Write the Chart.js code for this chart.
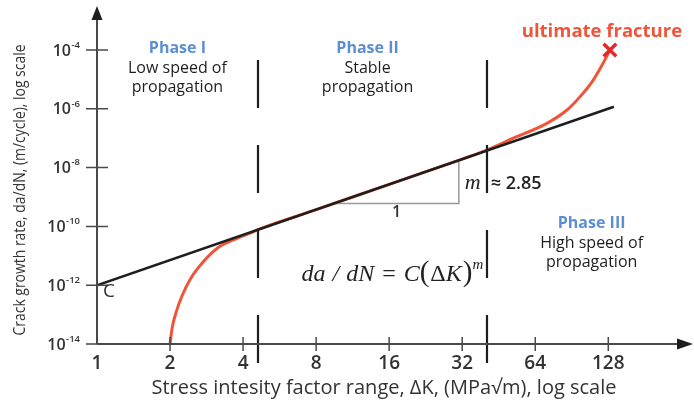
<!DOCTYPE html>
<html>
<head>
<meta charset="utf-8">
<script src="https://cdn.jsdelivr.net/npm/chart.js@4.4.0/dist/chart.umd.min.js"></script>
<style>
  body { margin: 0; background: #fff; }
  #wrap { width: 694px; height: 406px; position: relative; }
</style>
</head>
<body>
<div id="wrap"><canvas id="myChart"></canvas></div>
<script>
// axis ticks
let kTicks = [1, 2, 4, 8, 16, 32, 64, 128];
let rateTicks = [1e-14, 1e-12, 1e-10, 1e-8, 1e-6, 1e-4];

// crack growth curve : stress intensity range (MPa√m) vs da/dN (m/cycle)
let curveK = [2.0, 2.04, 2.12, 2.24, 2.44, 2.76, 3.18, 3.74, 4.27, 4.61, 8, 16, 32, 40, 52, 71.5, 86.5, 98, 111, 122, 130];
let curveRate = [1e-14, 3.5e-14, 1.22e-13, 4.3e-13, 1.76e-12, 6.65e-12, 1.99e-11, 3.8e-11, 5.9e-11, 7.8e-11,
                 3.7e-10, 2.7e-9, 1.95e-8, 3.8e-8, 1.0e-7, 3.2e-7, 9.1e-7, 2.6e-6, 9.5e-6, 3.6e-5, 1e-4];

// paris law line  da/dN = C(ΔK)^m
let parisK = [1, 135];
let parisRate = [1e-12, 1.18e-6];

// ultimate fracture point
let fractureK = [130];
let fractureRate = [1e-4];

// slope triangle (run 1, rise m)
let slopeK = [9.5, 31, 31];
let slopeRate = [6e-10, 6e-10, 1.8e-8];

// borders between phase I / II / III
let phaseBorders = [4.6, 40.6];

function pts(xs, ys) {
  let out = [];
  for (let i = 0; i < xs.length; i++) out.push({ x: xs[i], y: ys[i] });
  return out;
}

const FONT = '"Open Sans", sans-serif';
const SERIF = '"Liberation Serif", serif';
const RED = '#f0553a';
const BLUE = '#5b8fd4';

// draws a row of text pieces on one baseline, starting at x (or centred on it)
function drawRuns(ctx, runs, x, baseY, centred) {
  let total = 0;
  runs.forEach(r => { ctx.font = r.font; r.w = ctx.measureText(r.t).width + (r.gap || 0); total += r.w; });
  if (centred) x = x - total / 2;
  ctx.textAlign = 'left';
  ctx.textBaseline = 'alphabetic';
  runs.forEach(r => {
    ctx.font = r.font;
    ctx.fillText(r.t, x + (r.gap || 0), baseY + (r.dy || 0));
    x += r.w;
  });
}

////////////////////////////////////////////////////////////
// axes with arrows, tick marks, y labels and all the notes
////////////////////////////////////////////////////////////
const decor = {
  id: 'decor',
  afterDraw(chart) {
    const ctx = chart.ctx;
    const xs = chart.scales.x, ys = chart.scales.y;
    const a = chart.chartArea;
    const x0 = xs.getPixelForValue(kTicks[0]);
    const y0 = ys.getPixelForValue(rateTicks[0]);
    ctx.save();

    // phase borders (dashed)
    ctx.strokeStyle = '#1e1e1e';
    ctx.lineWidth = 2.2;
    ctx.setLineDash([48, 37]);
    phaseBorders.forEach(k => {
      let px = Math.round(xs.getPixelForValue(k));
      ctx.beginPath();
      ctx.moveTo(px, a.top + 55);
      ctx.lineTo(px, y0 + 24);
      ctx.stroke();
    });
    ctx.setLineDash([]);

    // axis lines
    ctx.strokeStyle = '#4a4a4a';
    ctx.lineWidth = 2;
    ctx.beginPath();
    ctx.moveTo(x0, y0); ctx.lineTo(a.right - 6, y0);
    ctx.moveTo(x0, y0); ctx.lineTo(x0, a.top + 6);
    ctx.stroke();
    ctx.fillStyle = '#1e1e1e';
    ctx.beginPath();
    ctx.moveTo(a.right + 3, y0); ctx.lineTo(a.right - 13, y0 - 5.5); ctx.lineTo(a.right - 13, y0 + 5.5);
    ctx.closePath(); ctx.fill();
    ctx.beginPath();
    ctx.moveTo(x0, a.top + 1); ctx.lineTo(x0 - 5.5, a.top + 15); ctx.lineTo(x0 + 5.5, a.top + 15);
    ctx.closePath(); ctx.fill();

    // tick marks crossing the axes
    ctx.lineWidth = 1.5;
    ctx.beginPath();
    kTicks.forEach(k => {
      if (k === kTicks[0]) return;
      let px = xs.getPixelForValue(k);
      ctx.moveTo(px, y0 - 7); ctx.lineTo(px, y0 + 7);
    });
    rateTicks.forEach(v => {
      let py = ys.getPixelForValue(v);
      ctx.moveTo(x0 - 11, py); ctx.lineTo(x0 + 11, py);
    });
    ctx.stroke();

    // y labels 10^n
    ctx.fillStyle = '#333';
    rateTicks.forEach(v => {
      let py = ys.getPixelForValue(v);
      let ex = String(Math.round(Math.log10(v)));
      let right = x0 - 17;
      ctx.textBaseline = 'middle';
      ctx.textAlign = 'right';
      ctx.font = '600 9.5px ' + FONT;
      let ew = ctx.measureText(ex).width;
      ctx.fillText(ex, right, py - 5);
      ctx.font = '600 16px ' + FONT;
      ctx.fillText('10', right - ew - 0.5, py + 1);
    });

    // y axis title, condensed
    ctx.save();
    ctx.translate(20, 190);
    ctx.rotate(-Math.PI / 2);
    ctx.font = '17px ' + FONT;
    let yTitle = 'Crack growth rate, da/dN, (m/cycle), log scale';
    let tw = ctx.measureText(yTitle).width;
    ctx.scale(291 / tw, 1);
    ctx.textAlign = 'center';
    ctx.textBaseline = 'middle';
    ctx.fillStyle = '#333';
    ctx.fillText(yTitle, 0, 0);
    ctx.restore();

    // x axis title
    ctx.fillStyle = '#333';
    ctx.textAlign = 'center';
    ctx.textBaseline = 'middle';
    ctx.font = '20px ' + FONT;
    ctx.fillText('Stress intesity factor range, \u0394K, (MPa\u221Am), log scale', 384, 388);

    // phase notes
    let b1 = xs.getPixelForValue(phaseBorders[0]);
    let b2 = xs.getPixelForValue(phaseBorders[1]);
    let phases = [
      { cx: (x0 + b1) / 2, y: 48, head: 'Phase I', l1: 'Low speed of', l2: 'propagation' },
      { cx: (b1 + b2) / 2 - 5, y: 48, head: 'Phase II', l1: 'Stable', l2: 'propagation' },
      { cx: (b2 + a.right) / 2 + 3, y: 223, head: 'Phase III', l1: 'High speed of', l2: 'propagation' }
    ];
    phases.forEach(p => {
      ctx.fillStyle = BLUE;
      ctx.font = 'bold 16px ' + FONT;
      ctx.fillText(p.head, p.cx, p.y);
      ctx.fillStyle = '#1e1e1e';
      ctx.font = '16px ' + FONT;
      ctx.fillText(p.l1, p.cx, p.y + 20);
      ctx.fillText(p.l2, p.cx, p.y + 39);
    });

    // ultimate fracture
    let fx = xs.getPixelForValue(fractureK[0]);
    let fy = ys.getPixelForValue(fractureRate[0]);
    ctx.fillStyle = RED;
    ctx.font = 'bold 18.5px ' + FONT;
    ctx.fillText('ultimate fracture', fx - 8, fy - 18);

    // C at the line start
    let cy = ys.getPixelForValue(parisRate[0]);
    ctx.fillStyle = '#333';
    ctx.font = '19px ' + FONT;
    ctx.fillText('C', x0 + 12, cy + 6);

    // slope triangle labels
    let tx1 = xs.getPixelForValue(slopeK[0]);
    let tx2 = xs.getPixelForValue(slopeK[1]);
    let ty1 = ys.getPixelForValue(slopeRate[0]);
    let ty2 = ys.getPixelForValue(slopeRate[2]);
    ctx.font = '600 16px ' + FONT;
    ctx.fillText('1', (tx1 + tx2) / 2, ty1 + 9);
    ctx.fillStyle = '#222';
    drawRuns(ctx, [
      { t: 'm', font: 'italic 22px ' + SERIF },
      { t: '\u2248 2.85', font: '600 18px ' + FONT, gap: 10 }
    ], tx2 + 6, (ty1 + ty2) / 2 + 7, false);

    // the paris law formula
    drawRuns(ctx, [
      { t: 'da', font: 'italic 24px ' + SERIF },
      { t: '/', font: 'italic 24px ' + SERIF, gap: 7 },
      { t: 'dN', font: 'italic 24px ' + SERIF, gap: 7 },
      { t: '=', font: '24px ' + SERIF, gap: 8 },
      { t: 'C', font: 'italic 24px ' + SERIF, gap: 8 },
      { t: '(', font: '29px ' + SERIF },
      { t: '\u0394', font: '24px ' + SERIF, gap: 1 },
      { t: 'K', font: 'italic 24px ' + SERIF },
      { t: ')', font: '29px ' + SERIF, gap: 1 },
      { t: 'm', font: 'italic 15px ' + SERIF, dy: -12 }
    ], xs.getPixelForValue(16.5), ys.getPixelForValue(1.4e-12), true);

    ctx.restore();
  }
};

const data = {
  datasets: [
    {
      label: 'Paris law',
      data: pts(parisK, parisRate),
      borderColor: '#1e1e1e',
      borderWidth: 2.5,
      pointRadius: 0
    },
    {
      label: 'fracture',
      data: pts(fractureK, fractureRate),
      showLine: false,
      pointStyle: 'crossRot',
      pointRadius: 9,
      borderColor: '#e8262a',
      borderWidth: 3.5
    },
    {
      label: 'slope',
      data: pts(slopeK, slopeRate),
      borderColor: '#9a9a9a',
      borderWidth: 1.5,
      pointRadius: 0,
      tension: 0
    },
    {
      label: 'da/dN',
      data: pts(curveK, curveRate),
      borderColor: RED,
      borderWidth: 3,
      pointRadius: 0,
      cubicInterpolationMode: 'monotone'
    }
  ]
};

const config = {
  type: 'line',
  data: data,
  options: {
    responsive: true,
    maintainAspectRatio: false,
    animation: false,
    layout: { autoPadding: false, padding: { top: 5, right: 4, left: 0, bottom: 0 } },
    plugins: { legend: { display: false }, tooltip: { enabled: false } },
    scales: {
      x: {
        type: 'logarithmic',
        min: 1,
        max: 278,
        bounds: 'data',
        afterBuildTicks: s => { s.ticks = kTicks.map(v => ({ value: v })); },
        afterFit: s => { s.height = 62; s.paddingLeft = 0; s.paddingRight = 0; },
        grid: { display: false, drawTicks: false },
        border: { display: false },
        ticks: {
          padding: 8,
          autoSkip: false,
          maxRotation: 0,
          color: '#333',
          font: { family: FONT, size: 19, weight: '600' },
          callback: v => String(v)
        }
      },
      y: {
        type: 'logarithmic',
        min: 1e-14,
        max: 3.4e-3,
        bounds: 'data',
        afterBuildTicks: s => { s.ticks = rateTicks.map(v => ({ value: v })); },
        afterFit: s => { s.width = 97; s.paddingTop = 0; s.paddingBottom = 0; },
        grid: { display: false, drawTicks: false },
        border: { display: false },
        ticks: { display: false }
      }
    }
  },
  plugins: [decor]
};

let canvasChart = document.getElementById('myChart');
const myChart = new Chart(canvasChart, config);
</script>
</body>
</html>
